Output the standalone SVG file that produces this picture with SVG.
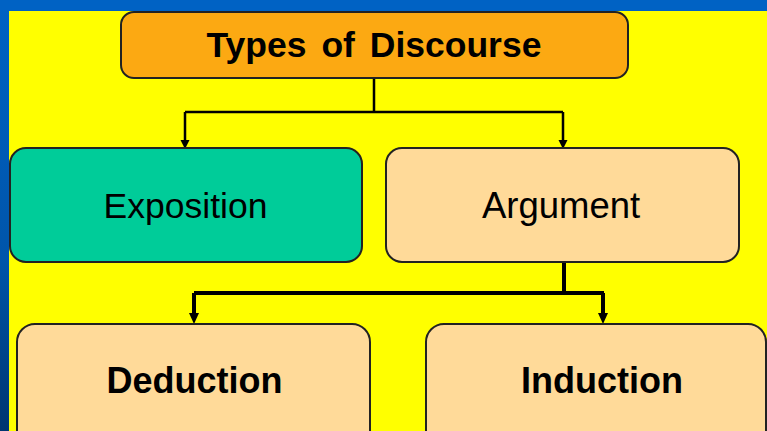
<svg xmlns="http://www.w3.org/2000/svg" width="767" height="431" viewBox="0 0 767 431">
<defs>
<linearGradient id="bg" x1="0" y1="0" x2="0" y2="1">
<stop offset="0" stop-color="#0062C4"/>
<stop offset="0.6" stop-color="#0055AA"/>
<stop offset="1" stop-color="#003570"/>
</linearGradient>
<style>
.box{stroke:#222;stroke-width:2}
.t{font-family:"Liberation Sans",Arial,sans-serif;fill:#000;text-anchor:middle}
.b{font-weight:bold}
.c1{fill:none;stroke:#000;stroke-width:2.5}
.c2{fill:none;stroke:#000;stroke-width:4}
.ah{fill:#000}
</style>
</defs>
<rect x="0" y="0" width="767" height="431" fill="url(#bg)"/>
<rect x="0" y="0" width="767" height="11" fill="#0062C4"/>
<rect x="9" y="11" width="758" height="420" fill="#FFFF00"/>

<g id="connectors">
<path class="c1" d="M374 78 V112 M185 112 H563 M185 112 V141 M563 112 V141"/>
<path class="ah" d="M180.5 140 L189.5 140 L185 149 Z"/>
<path class="ah" d="M558.5 140 L567.5 140 L563 149 Z"/>
<path class="c2" d="M564 262 V293 M194 293 H604 M194 293 V314 M603 293 V314"/>
<path class="ah" d="M189 313 L199 313 L194 324 Z"/>
<path class="ah" d="M598 313 L608 313 L603 324 Z"/>
</g>

<g id="title">
<rect class="box" x="121" y="12" width="507" height="66" rx="13" fill="#FCA912"/>
<text class="t b" x="374" y="57" font-size="35.5" word-spacing="5">Types of Discourse</text>
</g>

<g id="exposition">
<rect class="box" x="10" y="148" width="352" height="114" rx="16" fill="#00CC99"/>
<text class="t" x="185.5" y="218" font-size="35.5">Exposition</text>
</g>

<g id="argument">
<rect class="box" x="386" y="148" width="353" height="114" rx="16" fill="#FFDA99"/>
<text class="t" x="561" y="218" font-size="36.5">Argument</text>
</g>

<g id="deduction">
<rect class="box" x="17" y="324" width="353" height="130" rx="18" fill="#FFDA99"/>
<text class="t b" x="194.5" y="393" font-size="36">Deduction</text>
</g>

<g id="induction">
<rect class="box" x="426" y="324" width="340" height="130" rx="18" fill="#FFDA99"/>
<text class="t b" x="602" y="393" font-size="36">Induction</text>
</g>
</svg>
